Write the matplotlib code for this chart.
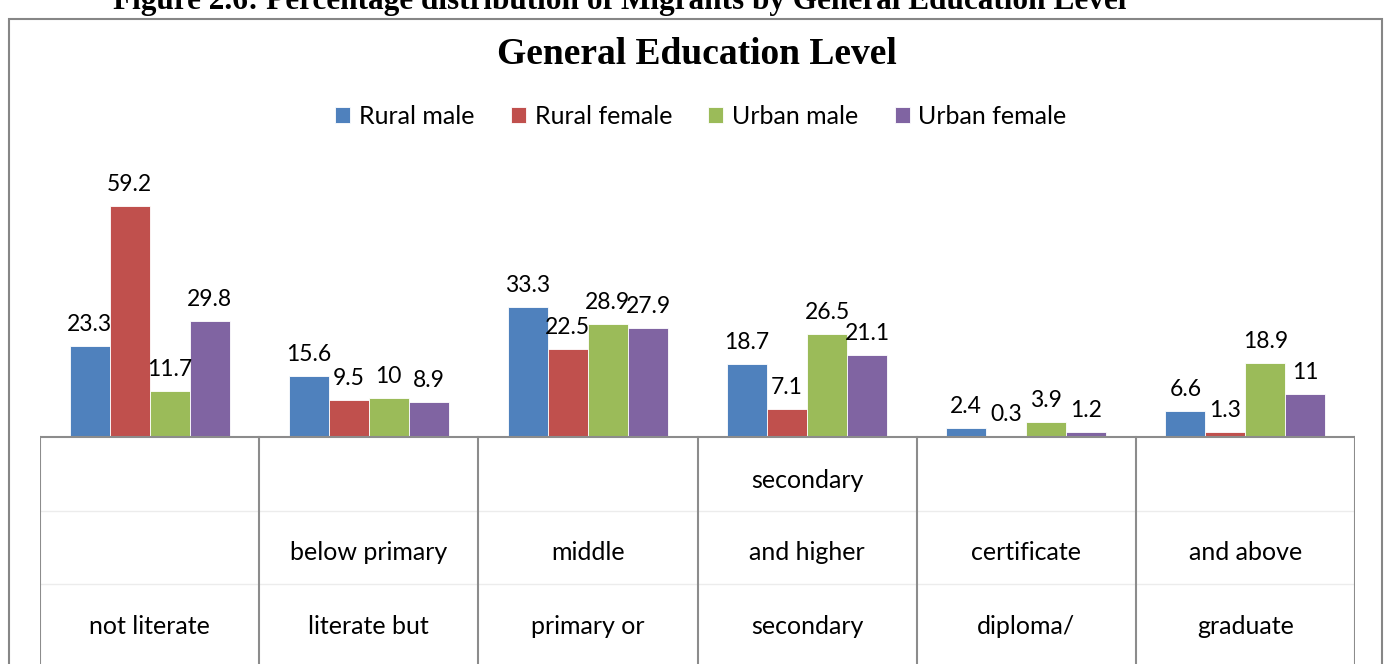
import matplotlib
matplotlib.use("Agg")
import matplotlib.pyplot as plt
from matplotlib.patches import Rectangle

# ---- data ----
series_names = ["Rural male", "Rural female", "Urban male", "Urban female"]
rural_male = [23.3, 15.6, 33.3, 18.7, 2.4, 6.6]
rural_female = [59.2, 9.5, 22.5, 7.1, 0.3, 1.3]
urban_male = [11.7, 10, 28.9, 26.5, 3.9, 18.9]
urban_female = [29.8, 8.9, 27.9, 21.1, 1.2, 11]
# category label lines as they appear, top row to bottom row ('' = empty row)
category_rows = [
    ["", "", "not literate"],
    ["", "below primary", "literate but"],
    ["", "middle", "primary or"],
    ["secondary", "and higher", "secondary"],
    ["", "certificate", "diploma/"],
    ["", "and above", "graduate"],
]
colors = ["#4F81BD", "#C0504D", "#9BBB59", "#8064A2"]
title = "General Education Level"
fig_caption = "Figure 2.6: Percentage distribution of Migrants by General Education Level"

W, H = 1387, 664
fig = plt.figure(figsize=(W / 100, H / 100), dpi=100)
FONT = "Lato"

# axes geometry in pixels
x_left, x_right = 40, 1355
y_base, y_top, y_bot = 437, 150, 664
ppu = 3.9  # pixels per unit
ax = fig.add_axes([x_left / W, 1 - y_bot / H, (x_right - x_left) / W, (y_bot - y_top) / H])
ax.set_xlim(-0.5, len(rural_male) - 0.5)
ax.set_ylim(-(y_bot - y_base) / ppu, (y_base - y_top) / ppu)
ax.axis("off")

bw = 40 / 219
series = [rural_male, rural_female, urban_male, urban_female]
for i, (vals, c, name) in enumerate(zip(series, colors, series_names)):
    xs = [k + (i - 1.5) * bw for k in range(len(vals))]
    ax.bar(xs, vals, width=bw, color=c, label=name, edgecolor="white", linewidth=0.6, zorder=2)
    for x, v in zip(xs, vals):
        ax.annotate(f"{v:g}", (x, v), xytext=(0, 8), textcoords="offset points",
                    ha="center", va="bottom", fontsize=16.5, family=FONT, zorder=3)

grid_c = "#8c8c8c"
ymin = ax.get_ylim()[0]
n = len(rural_male)
ax.plot([-0.5, n - 0.5], [0, 0], color=grid_c, lw=1.5, zorder=4)
for b in range(n + 1):
    ax.plot([b - 0.5, b - 0.5], [ymin, 0], color=grid_c, lw=1.5, zorder=4)
for yp in (511, 584):
    yv = -(yp - y_base) / ppu
    ax.plot([-0.5, n - 0.5], [yv, yv], color="#ececec", lw=1, zorder=1)

row_y = [481, 553, 627]
for k, rows in enumerate(category_rows):
    for r, txt in enumerate(rows):
        if txt:
            ax.text(k, -(row_y[r] - y_base) / ppu, txt, ha="center", va="center",
                    fontsize=18, family=FONT)

# outer frame
fig.add_artist(Rectangle((9 / W, -0.05), (1382 - 9) / W, 1.05 - 19 / H,
                         transform=fig.transFigure, fill=False, edgecolor="#868686", lw=1.5))

fig.text(697 / W, 1 - 54 / H, title, ha="center", va="center", fontsize=27,
         fontweight="bold", family="Liberation Serif")
fig.text(620 / W, 1 - 1 / H, fig_caption, ha="center", va="center", fontsize=22.5,
         fontweight="bold", family="Liberation Serif")

fig.legend(loc="center", bbox_to_anchor=(701 / W, 1 - 116 / H), ncol=4, frameon=False,
           prop={"family": FONT, "size": 18}, handlelength=0.6, handleheight=0.6,
           handletextpad=0.35, columnspacing=1.45)

fig.savefig("out.png", dpi=100)
